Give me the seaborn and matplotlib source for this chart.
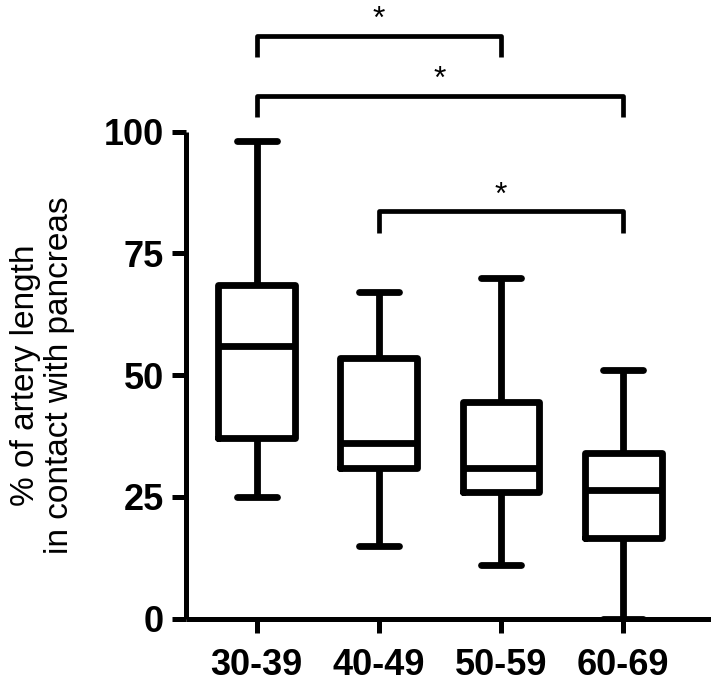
import pandas as pd
import numpy as np
import matplotlib
matplotlib.use("Agg")
import matplotlib.pyplot as plt
import matplotlib.transforms as mtransforms
import seaborn as sns

# Age groups and box summary values (min, Q1, median, Q3, max)
groups = ["30-39", "40-49", "50-59", "60-69"]
mins = [25, 15, 11, 0]
q1s = [37, 31, 26, 16.5]
medians = [56, 36, 31, 26.5]
q3s = [68.5, 53.5, 44.5, 34]
maxs = [98, 67, 70, 51]

# Significance brackets: (left group, right group), bar height, label
bracket_pairs = [(0, 2), (0, 3), (1, 3)]
bracket_heights = [119.7, 107.3, 83.6]
bracket_labels = ["*", "*", "*"]

y_ticks = [0, 25, 50, 75, 100]
y_label = "% of artery length\nin contact with pancreas"

# five points per group -> linear percentiles land exactly on Q1/median/Q3
rows = []
for g, a, b, c, d, e in zip(groups, mins, q1s, medians, q3s, maxs):
    for v in (a, b, c, d, e):
        rows.append({"group": g, "value": v})
df = pd.DataFrame(rows)

sns.set_style("ticks", {"axes.edgecolor": "black", "text.color": "black",
                        "xtick.color": "black", "ytick.color": "black"})
plt.rcParams["font.family"] = ["Liberation Sans", "DejaVu Sans"]

fig = plt.figure(figsize=(7.11, 6.91), dpi=100)
ax = fig.add_axes([186 / 711, 72.4 / 691, 525 / 711, 618.6 / 691])

lw = 4.9
sns.boxplot(data=df, x="group", y="value", order=groups, whis=(0, 100),
            fill=False, color="black", linecolor="black", linewidth=lw,
            width=0.63, capwidths=0.33, ax=ax)
for p in ax.patches:
    p.set_joinstyle("round")
    p.set_edgecolor("black")
for ln in ax.lines:
    ln.set_color("black")

# brackets
blw = 3.4
drop = 4.4
for (i, j), h, lab in zip(bracket_pairs, bracket_heights, bracket_labels):
    ax.plot([i, i, j, j], [h - drop, h, h, h - drop], color="black",
            lw=blw, solid_joinstyle="round", solid_capstyle="butt", clip_on=False)
    ax.text((i + j) / 2, h + 0.2, lab, ha="center", va="bottom",
            fontsize=23, color="black")

ax.set_xlim(-0.58, 3.72)
ax.set_ylim(0, 127)
ax.set_yticks(y_ticks)
ax.set_xlabel("")
ax.set_ylabel("")

sns.despine(ax=ax)
ax.spines["left"].set_bounds(0, 100)
for s in ("left", "bottom"):
    ax.spines[s].set_linewidth(3.6)
    ax.spines[s].set_capstyle("butt")
    ax.spines[s].set_color("black")
ax.tick_params(axis="both", direction="out", length=10, width=3.6,
               color="black", labelcolor="black")
ax.tick_params(axis="y", pad=6)
ax.tick_params(axis="x", pad=11)
for t in ax.get_xticklabels() + ax.get_yticklabels():
    t.set_fontweight("bold")
    t.set_fontsize(26)

trans = mtransforms.blended_transform_factory(ax.transAxes, ax.transData)
ax.text(-0.274, 50, y_label, transform=trans, rotation=90, ha="center",
        va="center", fontsize=24, linespacing=1.12, multialignment="center",
        color="black")

fig.savefig("out.png", dpi=100)
